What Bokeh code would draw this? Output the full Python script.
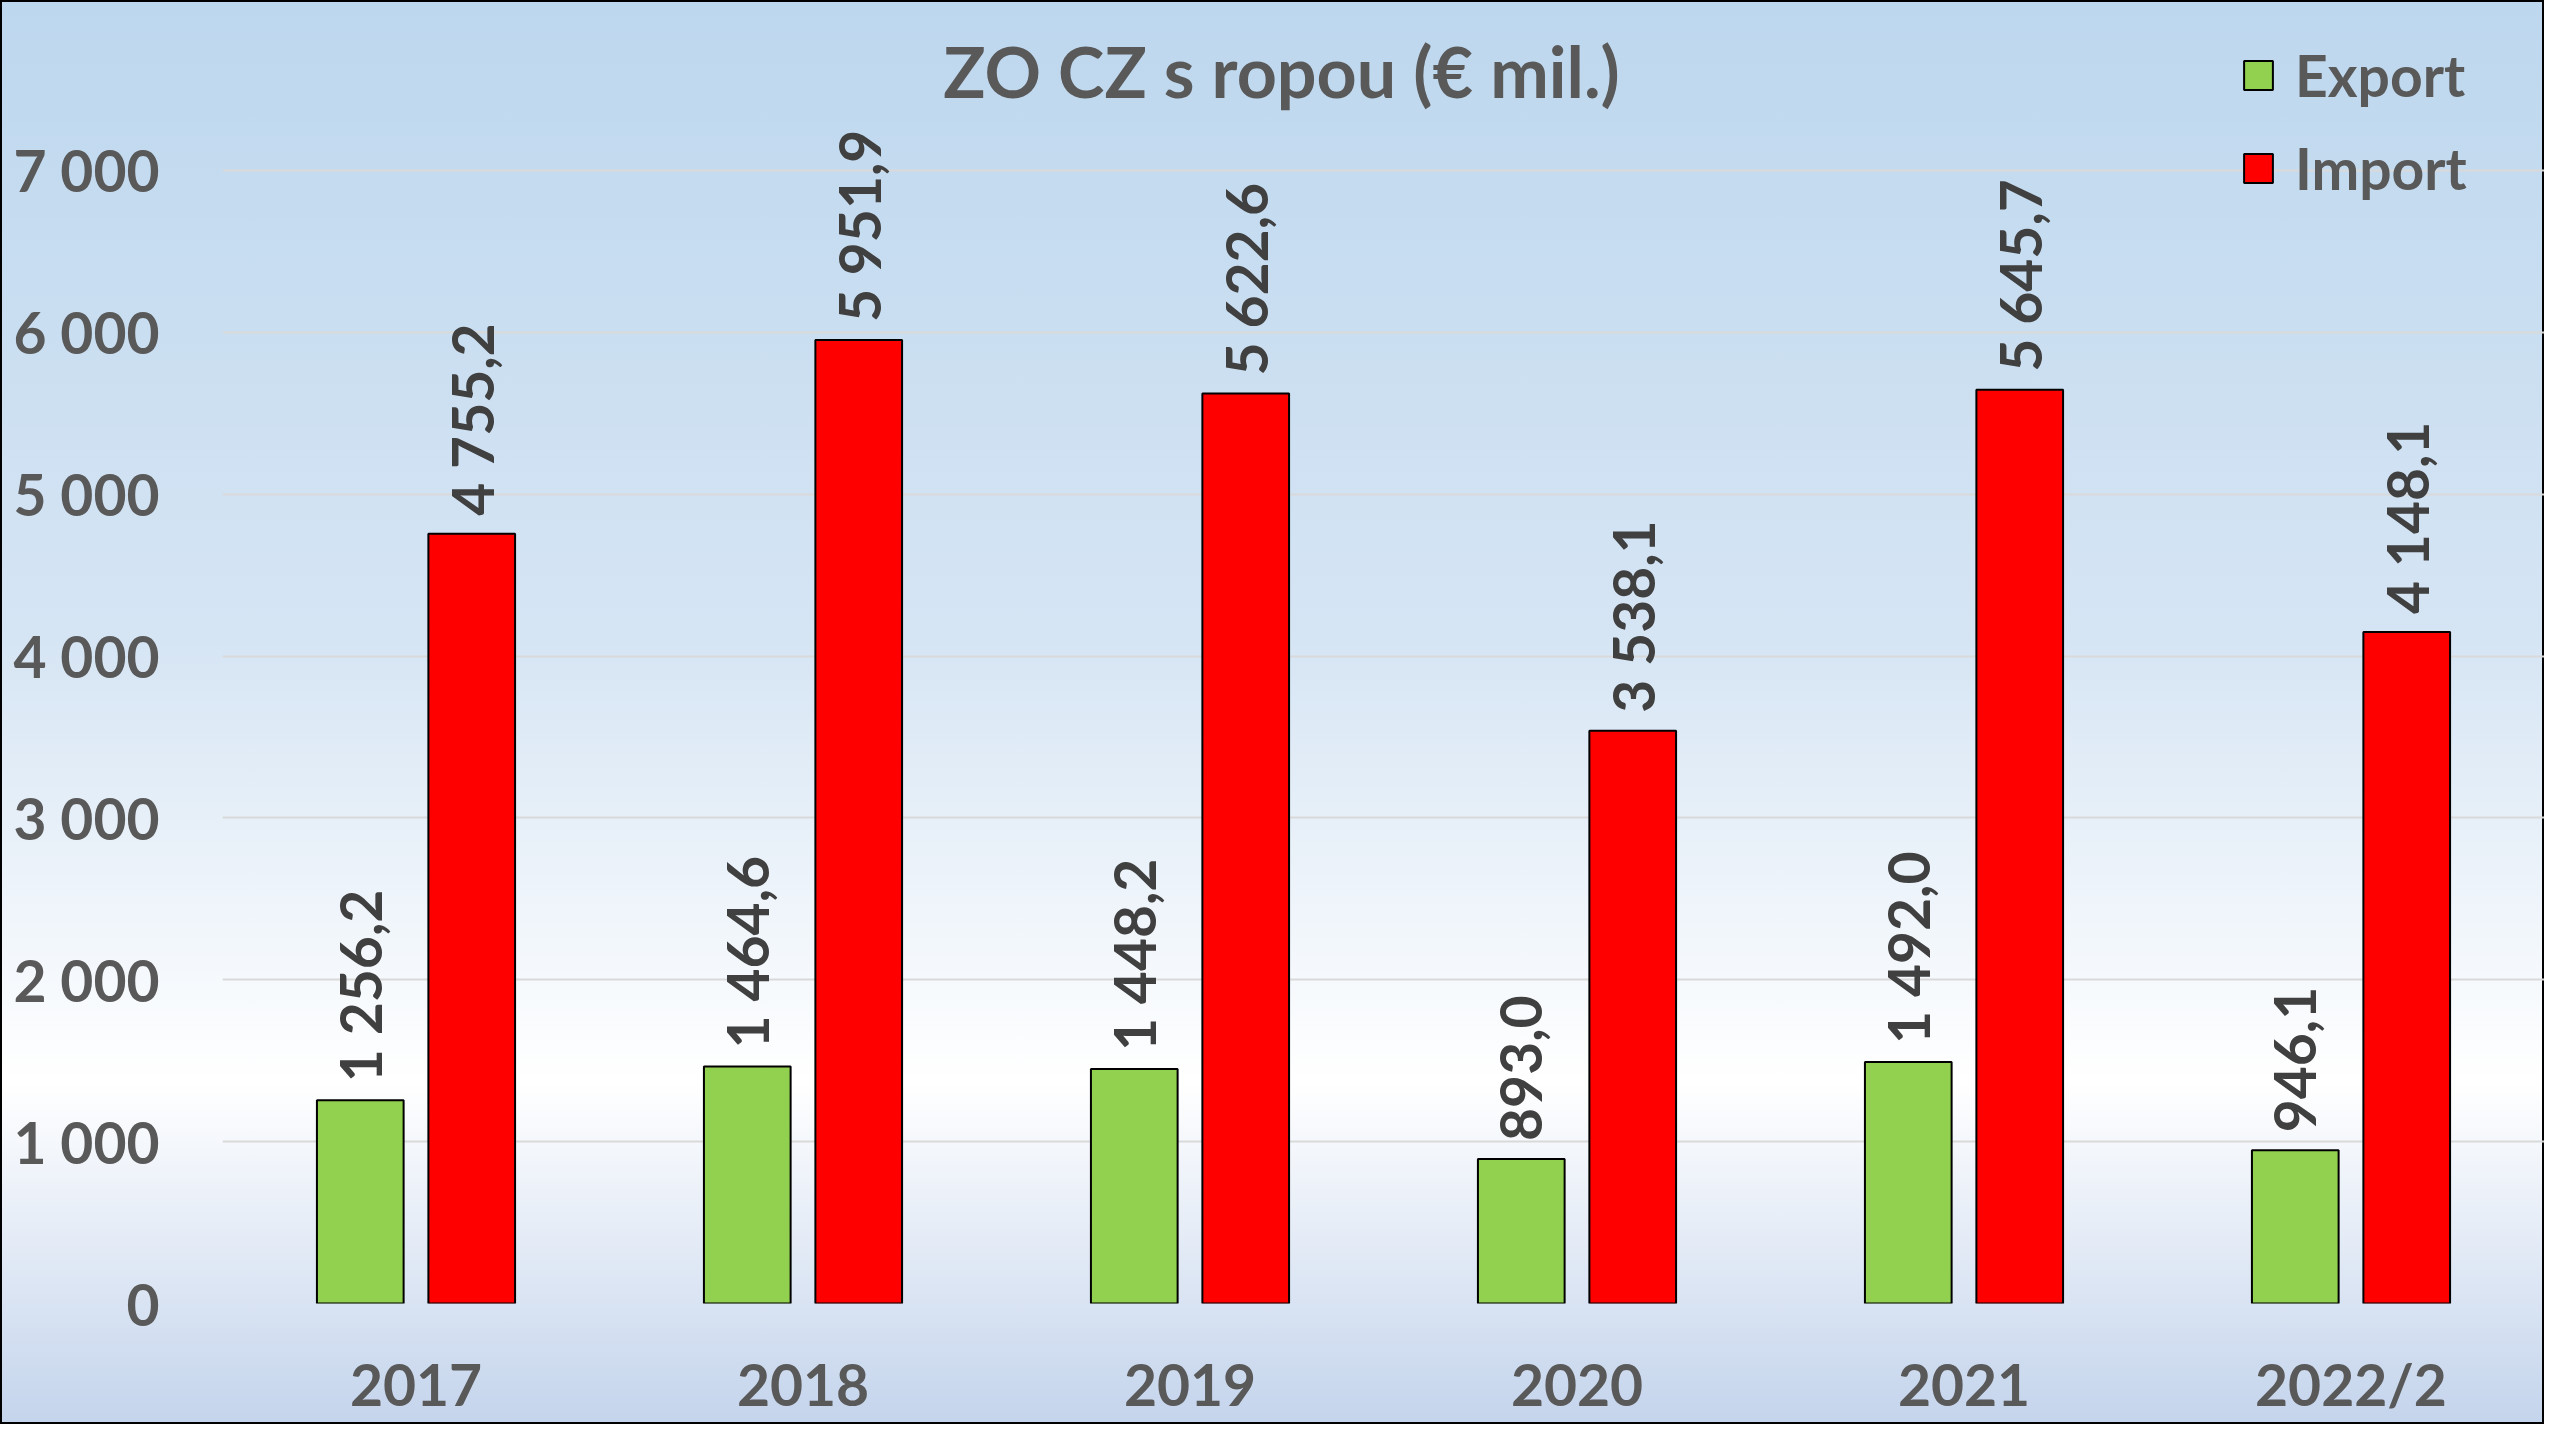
import math
from bokeh.plotting import figure
from bokeh.models import (FactorRange, Range1d, FixedTicker, ColumnDataSource,
                          Legend, LegendItem, Label)
from bokeh.transform import dodge
from bokeh.core.properties import value
from bokeh.embed import file_html
from bokeh.resources import INLINE

# ---- data ----
years = ["2017", "2018", "2019", "2020", "2021", "2022/2"]
export_vals = [1256.2, 1464.6, 1448.2, 893.0, 1492.0, 946.1]
import_vals = [4755.2, 5951.9, 5622.6, 3538.1, 5645.7, 4148.1]
y_ticks = [0, 1000, 2000, 3000, 4000, 5000, 6000, 7000]
series_names = ["Export", "Import"]
title_text = "ZO CZ s ropou (€ mil.)"
page_number = "45"


def fmt(v):
    return f"{v:,.1f}".replace(",", " ").replace(".", ",")


src = ColumnDataSource(dict(
    year=years,
    export=export_vals,
    imp=import_vals,
    export_lbl=[fmt(v) for v in export_vals],
    imp_lbl=[fmt(v) for v in import_vals],
))

FONT = value("Lato")
GREY = "#595959"
W, H = 2544, 1424

p = figure(x_range=FactorRange(*years), y_range=Range1d(0, 8050),
           width=W, height=H, output_backend="svg", toolbar_location=None,
           min_border_left=222, min_border_right=0, min_border_top=0,
           min_border_bottom=121)

p.background_fill_alpha = 0
p.border_fill_alpha = 0
p.outline_line_color = None
p.styles = {
    "background": "linear-gradient(to bottom, #BDD7EE 0%, #D6E5F4 45%, #FFFFFF 76%, #C4D4EC 100%)",
    "outline": "2px solid black",
    "outline-offset": "-2px",
}

OFF = 0.144
BW = 0.224

r_exp = p.vbar(x=dodge("year", -OFF, range=p.x_range), top="export", width=BW,
               source=src, fill_color="#92D050", line_color="black", line_width=2)
r_imp = p.vbar(x=dodge("year", OFF, range=p.x_range), top="imp", width=BW,
               source=src, fill_color="#FF0000", line_color="black", line_width=2)

for col, off in (("export", -OFF), ("imp", OFF)):
    p.text(x=dodge("year", off, range=p.x_range), y=col, text=col + "_lbl",
           source=src, angle=math.pi / 2, text_align="left",
           text_baseline="middle", y_offset=-18, text_font=FONT,
           text_font_style="bold", text_font_size="57px", text_color="#404040")

# grid
p.xgrid.visible = False
p.ygrid.ticker = FixedTicker(ticks=y_ticks)
p.ygrid.grid_line_color = "#D9D9D9"
p.ygrid.grid_line_width = 2

# axes
p.yaxis.ticker = FixedTicker(ticks=y_ticks)
p.yaxis.major_label_overrides = {t: f"{t:,}".replace(",", " ") for t in y_ticks}
for ax in (p.xaxis, p.yaxis):
    ax.axis_line_color = None
    ax.major_tick_line_color = None
    ax.minor_tick_line_color = None
    ax.major_tick_out = 0
    ax.major_tick_in = 0
    ax.major_label_text_font = "Lato"
    ax.major_label_text_font_style = "bold"
    ax.major_label_text_font_size = "57px"
    ax.major_label_text_color = GREY
p.yaxis.major_label_standoff = 63
p.xaxis.major_label_standoff = 46
p.xaxis.group_text_font_size = "0px"

# legend
legend = Legend(items=[LegendItem(label=series_names[0], renderers=[r_exp]),
                       LegendItem(label=series_names[1], renderers=[r_imp])],
                location=(2018, 1101), glyph_width=36, glyph_height=36,
                label_text_font="Lato", label_text_font_style="bold",
                label_text_font_size="57px", label_text_color=GREY,
                spacing=25, padding=0, margin=0, label_standoff=19,
                border_line_alpha=0, background_fill_alpha=0)
p.add_layout(legend)

# title
p.add_layout(Label(x=1059, y=1233, x_units="screen", y_units="screen",
                   text=title_text, text_align="center",
                   text_baseline="alphabetic", text_font="Lato",
                   text_font_style="bold", text_font_size="70px",
                   text_color=GREY))
# page number artefact
p.add_layout(Label(x=2111, y=-80, x_units="screen", y_units="screen",
                   text=page_number, text_align="left",
                   text_baseline="alphabetic", text_font="Lato",
                   text_font_size="30px", text_color="#8C8C8C",
                   text_alpha=0.7))

open("out.html", "w").write(file_html(p, INLINE))
